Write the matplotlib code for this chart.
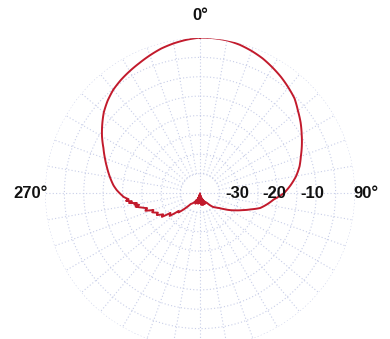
import numpy as np
import matplotlib
matplotlib.use("Agg")
import matplotlib.pyplot as plt

# Polar response, compass angles (deg, clockwise from top) and level (dB)
angles_deg = [0, 5, 10, 15, 20, 25, 30, 35, 40, 45, 50, 55, 60, 65, 70, 75, 80, 85,
              90, 95, 100, 104, 108, 112, 116, 120, 124, 128, 132, 137, 141, 145, 150,
              153, 156, 158, 160, 162, 164, 166, 168, 170, 172, 174, 176, 178, 180,
              182, 184, 186, 188, 190, 192, 194, 196, 198, 200, 203, 206, 210, 215,
              220, 223, 226, 228, 230, 233, 236, 238, 240, 243, 245, 248, 250, 252,
              254, 256, 258, 259, 260, 261, 262, 263, 264, 265, 267, 272, 275, 280,
              285, 290, 295, 300, 305, 310, 315, 320, 325, 330, 335, 340, 345, 350,
              355, 360]
level_db = [0.1, 0.1, 0.0, -0.4, -1.0, -1.7, -2.6, -3.5, -4.5, -5.5, -7.0, -8.3, -9.7,
            -11.0, -12.3, -13.4, -14.8, -16.5, -18.3, -20.9, -22.6, -24.0, -26.3, -28.2,
            -29.8, -31.2, -32.6, -33.7, -34.4, -35.1, -36.0, -36.9, -37.4, -37.0, -37.9,
            -36.9, -38.3, -37.0, -38.7, -36.8, -39.0, -37.1, -39.3, -36.9, -39.5, -37.4,
            -39.8, -37.8, -39.9, -37.5, -39.6, -37.2, -39.2, -37.4, -38.9, -37.6, -38.6,
            -37.0, -38.0, -37.4, -36.8, -36.3, -35.0, -33.5, -32.5, -32.8, -30.2, -30.8,
            -28.4, -29.0, -27.5, -28.0, -26.7, -27.2, -25.2, -25.8, -24.5, -23.0, -24.0,
            -22.8, -23.5, -21.5, -22.3, -20.8, -21.5, -20.3, -18.5, -17.6, -16.4, -15.2,
            -13.9, -12.5, -10.8, -9.2, -7.6, -6.3, -5.2, -4.4, -3.7, -3.0, -2.2, -1.4,
            -0.8, -0.3, 0.1]

ring_levels = [-35, -30, -25, -20, -15, -10, -5, 0]
spoke_step_deg = 10
r_labels = ["-30", "-20", "-10"]
r_label_pos = [-30.3, -20.8, -11.0]
angle_labels = ["0°", "90°", "270°"]
angle_label_theta = [0, 90, 270]
angle_label_r = [5.7, 2.8, 3.6]

R_MIN, R_MAX = -40, 0

fig = plt.figure(figsize=(3.9, 3.39), dpi=100)
ax = fig.add_axes([0.11538, -0.02655, 0.79487, 0.91445], projection="polar")
ax.set_theta_zero_location("N")
ax.set_theta_direction(-1)
ax.set_ylim(R_MIN, R_MAX)
ax.grid(False)
ax.set_xticks([])
ax.set_yticks([])
ax.spines["polar"].set_visible(False)
ax.patch.set_alpha(0)

grid_col = "#c8cee8"
tt = np.linspace(0, 2 * np.pi, 721)
for rl in ring_levels:
    ax.plot(tt, np.full_like(tt, rl), ls=(0, (1, 2)), color=grid_col, lw=0.8, zorder=1)
for a in range(0, 360, spoke_step_deg):
    r0 = R_MIN if a % 90 == 0 else ring_levels[0]
    ax.plot([np.deg2rad(a)] * 2, [r0, R_MAX], ls=(0, (1, 2)), color=grid_col, lw=0.8, zorder=1)

line, = ax.plot(np.deg2rad(angles_deg), level_db, color="#c21a2c", lw=1.4, zorder=3,
                solid_joinstyle="round")
line.get_path()._interpolation_steps = 8

font = dict(family=["Liberation Sans", "DejaVu Sans"], fontweight="bold", fontsize=12,
            color="#111111")
for txt, r in zip(r_labels, r_label_pos):
    ax.text(np.deg2rad(90), r, txt, ha="center", va="center", zorder=4, **font)
for txt, th, r in zip(angle_labels, angle_label_theta, angle_label_r):
    ax.text(np.deg2rad(th), r, txt, ha="center", va="center", clip_on=False, zorder=4, **font)

fig.savefig("out.png", dpi=100, facecolor="white")
